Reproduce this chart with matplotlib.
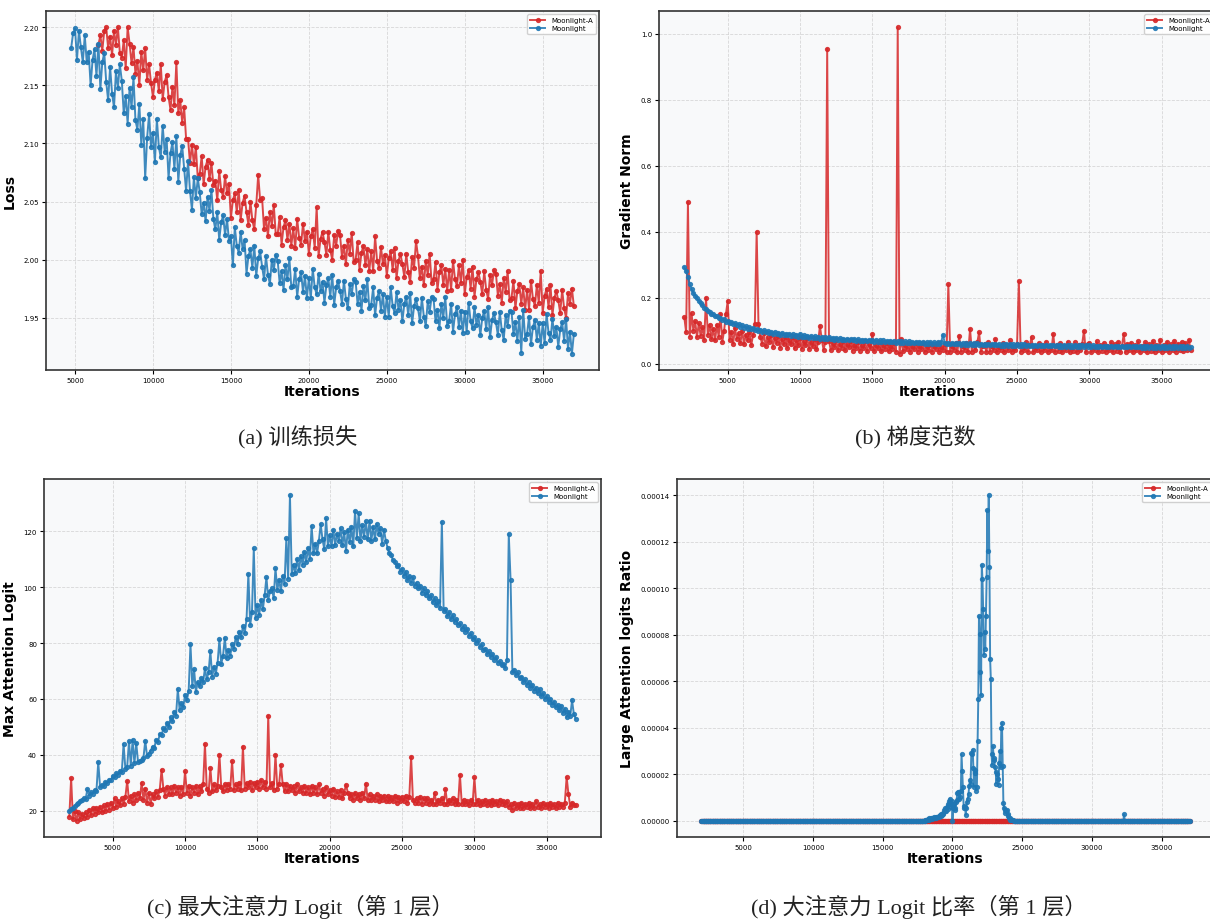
import numpy as np
import matplotlib
matplotlib.use("Agg")
import matplotlib.pyplot as plt
from matplotlib.ticker import FormatStrFormatter


""" data read off the four panels """
RED = "#d62728"
BLUE = "#1f77b4"
names = ["Moonlight-A", "Moonlight"]
EVERY = 125  # iterations between two logged points in (a)-(c)

# (a) training loss
loss_a_start = 6500
loss_a = [2.185, 2.193, 2.180, 2.197,
          2.200, 2.182, 2.192, 2.176, 2.197, 2.185, 2.200, 2.178,
          2.174, 2.189, 2.165, 2.200, 2.186, 2.169, 2.183, 2.160,
          2.171, 2.150, 2.179, 2.163, 2.182, 2.155, 2.168, 2.152,
          2.140, 2.155, 2.161, 2.145, 2.168, 2.138, 2.153, 2.159,
          2.140, 2.129, 2.149, 2.133, 2.170, 2.126, 2.137, 2.118,
          2.131, 2.104, 2.104, 2.083, 2.099, 2.082, 2.097, 2.070,
          2.074, 2.089, 2.065, 2.080, 2.086, 2.069, 2.083, 2.064,
          2.068, 2.051, 2.076, 2.060, 2.054, 2.072, 2.057, 2.065,
          2.036, 2.051, 2.057, 2.041, 2.060, 2.034, 2.049, 2.055,
          2.041, 2.030, 2.050, 2.034, 2.026, 2.047, 2.073, 2.051,
          2.053, 2.026, 2.036, 2.020, 2.041, 2.029, 2.047, 2.022,
          2.022, 2.037, 2.013, 2.028, 2.034, 2.017, 2.031, 2.012,
          2.027, 2.010, 2.035, 2.019, 2.013, 2.031, 2.016, 2.024,
          2.005, 2.020, 2.026, 2.010, 2.045, 2.003, 2.018, 2.024,
          2.015, 2.004, 2.024, 2.008, 2.000, 2.021, 2.012, 2.025,
          2.021, 2.002, 2.012, 1.996, 2.017, 2.005, 2.023, 1.998,
          2.000, 2.015, 1.991, 2.006, 2.012, 1.995, 2.009, 1.990,
          2.007, 1.990, 2.020, 1.999, 1.993, 2.011, 1.996, 2.004,
          1.986, 2.001, 2.007, 1.991, 2.010, 1.984, 1.999, 2.005,
          1.996, 1.985, 2.005, 1.989, 1.981, 2.002, 1.993, 2.016,
          2.003, 1.984, 1.994, 1.978, 1.999, 1.987, 2.005, 1.980,
          1.983, 1.998, 1.974, 1.989, 1.995, 1.978, 1.992, 1.973,
          1.991, 1.974, 1.999, 1.983, 1.977, 1.995, 1.980, 2.000,
          1.970, 1.985, 1.991, 1.975, 1.994, 1.968, 1.983, 1.989,
          1.981, 1.970, 1.990, 1.974, 1.966, 1.987, 1.978, 1.991,
          1.988, 1.969, 1.979, 1.963, 1.984, 1.972, 1.990, 1.965,
          1.967, 1.982, 1.958, 1.973, 1.979, 1.962, 1.976, 1.957,
          1.974, 1.957, 1.982, 1.966, 1.960, 1.978, 1.963, 1.990,
          1.954, 1.969, 1.975, 1.959, 1.978, 1.952, 1.967, 1.973,
          1.965, 1.954, 1.974, 1.958, 1.950, 1.971, 1.962, 1.975,
          1.960]
loss_m_start = 4750
loss_m = [2.182, 2.195,
          2.199, 2.172, 2.197, 2.183, 2.170, 2.193, 2.170, 2.179,
          2.150, 2.172, 2.181, 2.158, 2.186, 2.147, 2.170, 2.178,
          2.153, 2.137, 2.166, 2.143, 2.131, 2.162, 2.148, 2.168,
          2.154, 2.126, 2.141, 2.117, 2.148, 2.131, 2.157, 2.120,
          2.112, 2.134, 2.099, 2.121, 2.070, 2.105, 2.125, 2.097,
          2.109, 2.084, 2.121, 2.097, 2.088, 2.115, 2.093, 2.104,
          2.070, 2.092, 2.101, 2.078, 2.106, 2.067, 2.090, 2.098,
          2.078, 2.059, 2.085, 2.059, 2.043, 2.071, 2.053, 2.070,
          2.058, 2.039, 2.049, 2.033, 2.054, 2.042, 2.060, 2.035,
          2.026, 2.041, 2.017, 2.032, 2.038, 2.021, 2.035, 2.016,
          2.020, 1.995, 2.028, 2.012, 2.006, 2.024, 2.009, 2.017,
          1.988, 2.003, 2.009, 1.993, 2.012, 1.986, 2.001, 2.007,
          1.994, 1.983, 2.003, 1.987, 1.979, 2.000, 1.991, 2.004,
          1.999, 1.980, 1.990, 1.974, 1.995, 1.983, 2.001, 1.976,
          1.977, 1.992, 1.968, 1.983, 1.989, 1.972, 1.986, 1.967,
          1.984, 1.967, 1.992, 1.976, 1.970, 1.988, 1.973, 1.981,
          1.963, 1.978, 1.984, 1.968, 1.987, 1.961, 1.976, 1.982,
          1.973, 1.962, 1.982, 1.966, 1.958, 1.979, 1.970, 1.983,
          1.981, 1.962, 1.972, 1.956, 1.977, 1.965, 1.983, 1.958,
          1.961, 1.976, 1.952, 1.967, 1.973, 1.956, 1.970, 1.951,
          1.968, 1.951, 1.976, 1.960, 1.954, 1.972, 1.957, 1.965,
          1.947, 1.962, 1.968, 1.952, 1.971, 1.945, 1.960, 1.966,
          1.958, 1.947, 1.967, 1.951, 1.943, 1.964, 1.955, 1.968,
          1.966, 1.947, 1.957, 1.941, 1.962, 1.950, 1.968, 1.943,
          1.947, 1.962, 1.938, 1.953, 1.959, 1.942, 1.956, 1.937,
          1.955, 1.938, 1.963, 1.947, 1.941, 1.959, 1.944, 1.952,
          1.935, 1.950, 1.956, 1.940, 1.959, 1.933, 1.948, 1.954,
          1.946, 1.935, 1.955, 1.939, 1.931, 1.952, 1.943, 1.956,
          1.955, 1.936, 1.946, 1.930, 1.951, 1.920, 1.957, 1.932,
          1.936, 1.951, 1.927, 1.942, 1.948, 1.931, 1.945, 1.926,
          1.945, 1.928, 1.953, 1.937, 1.931, 1.949, 1.934, 1.942,
          1.925, 1.940, 1.946, 1.930, 1.949, 1.923, 1.938, 1.919,
          1.936]

# (b) gradient norm, from 2000
grad_start = 2000
grad_a = [0.140, 0.095, 0.490, 0.082, 0.152, 0.100, 0.128, 0.080,
          0.122, 0.085, 0.110, 0.072, 0.200, 0.088, 0.118, 0.074,
          0.105, 0.070, 0.118, 0.082, 0.150, 0.066, 0.100, 0.150,
          0.190, 0.072, 0.096, 0.060, 0.108, 0.075, 0.092, 0.062,
          0.100, 0.058, 0.088, 0.070, 0.096, 0.056, 0.086, 0.120,
          0.400, 0.120, 0.082, 0.060, 0.092, 0.052, 0.080, 0.065,
          0.087, 0.050, 0.078, 0.062, 0.085, 0.048, 0.074, 0.058,
          0.082, 0.047, 0.072, 0.058, 0.080, 0.046, 0.070, 0.055,
          0.078, 0.045, 0.068, 0.055, 0.077, 0.044, 0.066, 0.052,
          0.074, 0.043, 0.064, 0.115, 0.072, 0.042, 0.066, 0.955,
          0.068, 0.041, 0.062, 0.050, 0.071, 0.040, 0.060, 0.048,
          0.067, 0.040, 0.058, 0.049, 0.069, 0.039, 0.057, 0.047,
          0.065, 0.039, 0.056, 0.047, 0.067, 0.038, 0.058, 0.046,
          0.090, 0.038, 0.055, 0.046, 0.064, 0.037, 0.056, 0.045,
          0.062, 0.037, 0.054, 0.045, 0.063, 0.036, 1.020, 0.030,
          0.075, 0.037, 0.055, 0.044, 0.062, 0.036, 0.052, 0.043,
          0.063, 0.036, 0.053, 0.043, 0.061, 0.035, 0.054, 0.042,
          0.060, 0.036, 0.052, 0.043, 0.062, 0.035, 0.051, 0.042,
          0.059, 0.035, 0.240, 0.036, 0.052, 0.042, 0.061, 0.035,
          0.085, 0.036, 0.054, 0.042, 0.062, 0.035, 0.105, 0.036,
          0.058, 0.041, 0.064, 0.095, 0.036, 0.052, 0.060, 0.035,
          0.066, 0.036, 0.053, 0.041, 0.075, 0.035, 0.051, 0.042,
          0.062, 0.035, 0.055, 0.041, 0.070, 0.035, 0.050, 0.040,
          0.058, 0.250, 0.035, 0.052, 0.041, 0.064, 0.035, 0.055,
          0.080, 0.035, 0.051, 0.040, 0.062, 0.034, 0.055, 0.040,
          0.066, 0.034, 0.052, 0.040, 0.090, 0.035, 0.056, 0.039,
          0.061, 0.034, 0.053, 0.040, 0.066, 0.034, 0.050, 0.039,
          0.064, 0.034, 0.055, 0.040, 0.060, 0.100, 0.034, 0.058,
          0.063, 0.034, 0.051, 0.040, 0.067, 0.034, 0.055, 0.039,
          0.062, 0.034, 0.052, 0.040, 0.065, 0.034, 0.058, 0.039,
          0.066, 0.034, 0.054, 0.090, 0.034, 0.060, 0.040, 0.063,
          0.034, 0.056, 0.040, 0.067, 0.034, 0.053, 0.040, 0.064,
          0.034, 0.058, 0.039, 0.068, 0.034, 0.055, 0.040, 0.072,
          0.035, 0.057, 0.040, 0.066, 0.035, 0.058, 0.040, 0.068,
          0.036, 0.060, 0.040, 0.066, 0.037, 0.062, 0.040, 0.072,
          0.040]
grad_m = [0.292, 0.280, 0.262, 0.240, 0.226, 0.214, 0.206, 0.198,
          0.191, 0.183, 0.178, 0.170, 0.167, 0.160, 0.157, 0.150,
          0.151, 0.143, 0.144, 0.137, 0.139, 0.132, 0.134, 0.127,
          0.130, 0.123, 0.126, 0.119, 0.122, 0.116, 0.119, 0.112,
          0.116, 0.109, 0.113, 0.106, 0.110, 0.104, 0.108, 0.101,
          0.105, 0.099, 0.103, 0.097, 0.101, 0.095, 0.099, 0.093,
          0.097, 0.091, 0.096, 0.090, 0.094, 0.088, 0.093, 0.087,
          0.091, 0.086, 0.090, 0.085, 0.089, 0.083, 0.088, 0.082,
          0.090, 0.081, 0.086, 0.080, 0.085, 0.079, 0.084, 0.078,
          0.083, 0.077, 0.082, 0.076, 0.081, 0.075, 0.080, 0.074,
          0.080, 0.074, 0.079, 0.073, 0.078, 0.072, 0.077, 0.072,
          0.076, 0.071, 0.075, 0.070, 0.075, 0.070, 0.074, 0.069,
          0.074, 0.068, 0.073, 0.068, 0.072, 0.067, 0.072, 0.067,
          0.071, 0.066, 0.071, 0.066, 0.070, 0.065, 0.070, 0.065,
          0.069, 0.064, 0.069, 0.064, 0.068, 0.063, 0.068, 0.063,
          0.068, 0.063, 0.067, 0.062, 0.067, 0.062, 0.066, 0.062,
          0.066, 0.061, 0.066, 0.061, 0.065, 0.060, 0.065, 0.060,
          0.065, 0.060, 0.064, 0.060, 0.064, 0.059, 0.064, 0.087,
          0.063, 0.059, 0.063, 0.058, 0.063, 0.058, 0.062, 0.058,
          0.062, 0.057, 0.062, 0.057, 0.061, 0.057, 0.061, 0.056,
          0.061, 0.056, 0.061, 0.056, 0.060, 0.056, 0.060, 0.055,
          0.060, 0.055, 0.060, 0.055, 0.059, 0.055, 0.059, 0.054,
          0.059, 0.054, 0.059, 0.054, 0.058, 0.054, 0.058, 0.054,
          0.058, 0.053, 0.058, 0.053, 0.058, 0.053, 0.057, 0.053,
          0.057, 0.053, 0.057, 0.052, 0.057, 0.052, 0.057, 0.052,
          0.057, 0.052, 0.056, 0.052, 0.056, 0.052, 0.056, 0.051,
          0.056, 0.051, 0.056, 0.051, 0.056, 0.051, 0.055, 0.051,
          0.055, 0.051, 0.055, 0.051, 0.055, 0.050, 0.055, 0.050,
          0.055, 0.050, 0.055, 0.050, 0.054, 0.050, 0.054, 0.050,
          0.054, 0.050, 0.054, 0.050, 0.054, 0.049, 0.054, 0.049,
          0.054, 0.049, 0.054, 0.049, 0.053, 0.049, 0.053, 0.049,
          0.053, 0.049, 0.053, 0.049, 0.053, 0.048, 0.053, 0.048,
          0.053, 0.048, 0.053, 0.048, 0.053, 0.048, 0.052, 0.048,
          0.052, 0.048, 0.052, 0.048, 0.052, 0.048, 0.052, 0.048,
          0.052, 0.048, 0.052, 0.047, 0.052, 0.047, 0.052, 0.048,
          0.050]

# (c) max attention logit (layer 1), from 2000
logit_start = 2000
logit_a = [18.0, 31.7, 17.0, 20.0, 16.5, 19.5, 17.0, 19.0,
           17.5, 19.5, 18.0, 20.5, 18.5, 21.0, 19.0, 21.0,
           19.5, 21.5, 19.5, 22.0, 20.0, 22.5, 20.5, 23.0,
           21.0, 24.5, 21.5, 23.5, 22.0, 24.5, 22.5, 25.0,
           30.7, 23.5, 25.5, 23.0, 26.0, 24.0, 26.5, 24.5,
           30.1, 24.0, 28.0, 23.0, 26.5, 22.5, 26.0, 24.5,
           27.0, 25.0, 27.5, 34.7, 28.0, 25.5, 28.5, 26.0,
           28.5, 26.0, 29.0, 26.5, 28.5, 25.5, 28.5, 26.0,
           34.2, 26.5, 29.0, 25.5, 28.5, 26.5, 29.0, 26.0,
           29.0, 27.0, 29.5, 43.9, 28.0, 26.5, 35.3, 27.0,
           29.5, 27.5, 29.0, 40.1, 28.5, 27.0, 29.5, 27.5,
           29.5, 28.0, 37.8, 27.5, 29.5, 28.0, 30.0, 27.5,
           43.0, 28.0, 30.0, 28.5, 30.5, 27.5, 30.0, 28.5,
           30.5, 28.0, 31.0, 28.5, 30.5, 28.0, 54.0, 28.5,
           30.0, 27.5, 40.1, 28.0, 29.5, 36.5, 29.5, 27.0,
           29.5, 27.0, 29.0, 27.5, 29.0, 26.5, 29.5, 27.0,
           28.5, 26.5, 29.0, 26.5, 28.5, 26.0, 29.0, 26.5,
           28.5, 26.0, 29.5, 26.5, 28.0, 25.5, 28.5, 26.0,
           27.5, 25.5, 28.0, 25.0, 27.0, 25.0, 27.5, 24.5,
           26.5, 29.4, 26.5, 24.5, 26.0, 24.0, 26.5, 24.5,
           26.0, 24.0, 26.5, 24.5, 29.8, 24.0, 26.0, 24.0,
           25.5, 24.0, 26.0, 23.5, 25.5, 24.0, 25.5, 23.5,
           25.5, 23.5, 25.0, 23.5, 25.5, 23.0, 25.0, 23.5,
           25.0, 23.5, 25.5, 23.0, 25.0, 39.4, 24.0, 23.0,
           24.5, 23.0, 25.0, 22.5, 24.5, 23.0, 24.5, 22.5,
           24.0, 22.5, 26.5, 22.5, 24.0, 23.0, 24.5, 22.5,
           27.7, 22.5, 24.0, 23.0, 24.5, 22.5, 24.0, 22.5,
           32.9, 22.5, 24.0, 22.5, 23.5, 22.0, 24.0, 22.5,
           32.0, 22.5, 24.0, 22.0, 23.5, 22.5, 24.0, 22.0,
           23.5, 22.0, 24.0, 22.5, 23.5, 22.0, 24.0, 22.5,
           23.5, 22.0, 23.5, 21.5, 22.5, 20.5, 23.0, 21.0,
           22.5, 21.0, 23.0, 21.0, 22.5, 21.5, 23.0, 21.0,
           22.5, 21.0, 23.5, 21.5, 22.5, 21.0, 23.0, 21.5,
           22.5, 21.0, 23.0, 21.5, 22.5, 21.0, 23.0, 21.5,
           22.5, 21.5, 23.0, 32.1, 26.0, 21.5, 23.0, 22.0,
           22.0]
logit_m = [20.0, 20.6, 21.2, 21.8, 22.3, 22.8, 23.6, 24.0,
           24.6, 24.2, 27.8, 25.5, 26.6, 26.2, 27.5, 27.2,
           37.5, 28.5, 29.4, 29.0, 30.4, 30.0, 31.2, 31.0,
           32.6, 32.0, 33.5, 33.0, 34.3, 33.8, 43.9, 35.0,
           35.8, 44.9, 36.2, 45.4, 37.0, 44.3, 37.5, 38.0,
           38.2, 39.0, 45.1, 39.5, 40.5, 41.5, 43.0, 42.5,
           45.5, 44.5, 47.5, 47.0, 49.5, 49.0, 51.5, 50.0,
           53.5, 52.0, 55.5, 54.0, 63.5, 56.0, 58.5, 57.0,
           61.5, 59.5, 63.0, 79.5, 64.5, 70.6, 62.5, 66.0,
           64.5, 67.5, 66.0, 71.0, 67.0, 69.5, 77.1, 68.0,
           71.5, 69.0, 73.0, 81.3, 72.5, 75.5, 81.8, 74.5,
           77.5, 75.5, 79.5, 78.0, 82.0, 79.5, 84.0, 82.0,
           86.0, 83.5, 88.5, 104.7, 86.5, 91.0, 113.8, 89.0,
           93.5, 90.0, 95.5, 92.0, 97.0, 103.5, 95.5, 98.5,
           99.5, 96.0, 106.7, 99.0, 102.5, 98.5, 104.0, 101.0,
           117.4, 103.0, 132.8, 104.5, 108.0, 105.0, 110.0, 106.0,
           111.0, 108.0, 112.5, 109.0, 114.0, 110.0, 121.8, 112.0,
           115.5, 112.0, 116.5, 122.5, 117.0, 113.5, 124.5, 114.5,
           118.5, 114.5, 120.5, 115.0, 119.0, 116.5, 121.0, 115.0,
           119.5, 113.0, 120.5, 116.0, 121.5, 114.5, 127.2, 117.5,
           126.3, 116.5, 122.0, 118.0, 123.5, 117.0, 123.7, 116.5,
           121.5, 117.0, 122.5, 119.0, 121.0, 115.5, 120.5, 116.5,
           114.0, 112.0, 111.5, 109.5, 109.0, 107.5, 108.0, 105.5,
           106.5, 104.0, 105.5, 102.5, 104.0, 101.5, 103.5, 100.5,
           101.5, 99.5, 100.5, 98.0, 99.5, 97.0, 98.5, 96.0,
           97.0, 94.5, 96.0, 93.5, 95.0, 92.5, 123.3, 91.5,
           92.0, 89.5, 91.0, 88.5, 90.0, 87.5, 88.5, 86.5,
           87.0, 85.0, 86.0, 84.0, 85.0, 82.5, 83.5, 81.5,
           82.0, 80.0, 81.0, 78.5, 79.5, 77.5, 78.0, 76.0,
           77.0, 75.0, 76.0, 74.0, 75.0, 73.0, 73.5, 72.0,
           72.5, 71.0, 74.0, 118.9, 102.5, 69.5, 70.5, 68.5,
           69.5, 67.5, 68.0, 66.0, 67.0, 65.0, 66.0, 64.0,
           65.0, 63.0, 64.0, 62.0, 63.5, 61.0, 62.0, 60.0,
           61.0, 59.0, 60.0, 58.0, 59.0, 57.0, 58.0, 56.0,
           57.5, 55.0, 56.5, 53.5, 55.5, 54.0, 59.5, 54.5,
           53.0]

# (d) large attention logits ratio: zero everywhere for Moonlight-A,
# Moonlight non-zero only around 18000-24400 (values in 1e-5, every 50 its)
ratio_first, ratio_last, ratio_every = 2000, 37000, 50
ratio_peak_start = 18000
ratio_peak = [0.00, 0.02, 0.05, 0.03, 0.05, 0.08, 0.10, 0.05, 0.08, 0.10,
              0.12, 0.08, 0.10, 0.15, 0.10, 0.12, 0.15, 0.10, 0.18, 0.15,
              0.20, 0.15, 0.25, 0.20, 0.30, 0.25, 0.35, 0.30, 0.45, 0.40,
              0.55, 0.40, 0.60, 0.70, 0.50, 0.85, 0.95, 0.75, 0.60, 0.85,
              0.00, 0.55, 0.70, 0.45, 0.55, 0.80, 0.90, 1.20, 1.25, 0.95,
              1.25, 1.00, 1.30, 2.85, 2.15, 1.45, 0.65, 0.55, 0.60, 0.25,
              0.55, 0.80, 0.95, 1.15, 1.50, 1.75, 1.60, 2.90, 2.85, 3.05,
              2.25, 1.45, 2.20, 2.05, 1.30, 1.45, 3.45, 5.25, 8.80, 8.05,
              6.40, 5.40, 11.00, 10.40, 9.10, 7.15, 8.10, 7.40, 8.80, 10.50,
              13.35, 11.60, 14.00, 10.90, 6.95, 6.10, 2.85, 2.40, 3.20, 2.70,
              2.60, 2.30, 2.10, 1.60, 2.00, 1.80, 1.55, 2.50, 3.00, 2.30,
              4.00, 4.20, 2.35, 0.75, 0.55, 0.35, 0.45, 0.40, 0.45, 0.20,
              0.30, 0.10, 0.10, 0.05, 0.05, 0.03, 0.02, 0.01, 0.00]
ratio_bump_step = 32300
ratio_bump = 0.28


def build_ratio():
    """ ratio series on the 50-step grid """
    steps = np.arange(ratio_first, ratio_last + 1, ratio_every)
    moon_a = np.zeros(len(steps))
    moon = np.zeros(len(steps))
    i0 = (ratio_peak_start - ratio_first) // ratio_every
    moon[i0:i0 + len(ratio_peak)] = np.array(ratio_peak) * 1e-5
    moon[(ratio_bump_step - ratio_first) // ratio_every] = ratio_bump * 1e-5
    return steps, moon_a, moon


def steps_of(start, vals, every=EVERY):
    return start + every * np.arange(len(vals))


def draw(ax, xa, ya, xm, ym, ylabel):
    """ one panel """
    ax.set_facecolor("#f8f9fa")
    ax.set_axisbelow(True)
    ax.plot(xa, ya, color=RED, marker="o", ms=2.8, lw=1.4, alpha=0.85, label=names[0])
    ax.plot(xm, ym, color=BLUE, marker="o", ms=2.8, lw=1.4, alpha=0.85, label=names[1])
    ax.grid(True, ls="--", lw=0.6, color="#cfcfcf", alpha=0.8)
    ax.set_xlabel("Iterations", fontsize=10, fontweight="bold", labelpad=1)
    ax.set_ylabel(ylabel, fontsize=10, fontweight="bold", labelpad=5)
    ax.tick_params(labelsize=5, length=3, width=0.8, pad=2)
    for s in ax.spines.values():
        s.set_color("#333333")
        s.set_linewidth(1.2)
    ax.legend(loc="upper right", fontsize=5, framealpha=0.9, edgecolor="#cccccc",
              handlelength=2.2, borderpad=0.4, labelspacing=0.3)


fig = plt.figure(figsize=(12.1, 9.2), dpi=100)
W, H = 1210.0, 920.0

def box(l, t, r, b):
    return [l / W, 1 - b / H, (r - l) / W, (b - t) / H]

ax1 = fig.add_axes(box(46, 12, 599, 371))
ax2 = fig.add_axes(box(659, 12, 1216, 371))
ax3 = fig.add_axes(box(44, 480, 601, 838))
ax4 = fig.add_axes(box(677, 480, 1214, 838))

draw(ax1, steps_of(loss_a_start, loss_a), loss_a,
     steps_of(loss_m_start, loss_m), loss_m, "Loss")
draw(ax2, steps_of(grad_start, grad_a), grad_a,
     steps_of(grad_start, grad_m), grad_m, "Gradient Norm")
draw(ax3, steps_of(logit_start, logit_a), logit_a,
     steps_of(logit_start, logit_m), logit_m, "Max Attention Logit")
rs, ra, rm = build_ratio()
draw(ax4, rs, ra, rs, rm, "Large Attention logits Ratio")
ax4.yaxis.set_major_formatter(FormatStrFormatter("%.5f"))

cap = dict(ha="center", va="center", fontsize=16,
           family=["Liberation Serif", "Noto Sans CJK SC"], color="#222222")
fig.text(298 / W, 1 - 438 / H, "(a) 训练损失", **cap)
fig.text(915 / W, 1 - 438 / H, "(b) 梯度范数", **cap)
fig.text(300 / W, 1 - 907 / H, "(c) 最大注意力 Logit（第 1 层）", **cap)
fig.text(919 / W, 1 - 907 / H, "(d) 大注意力 Logit 比率（第 1 层）", **cap)

fig.savefig("out.png", dpi=100)
